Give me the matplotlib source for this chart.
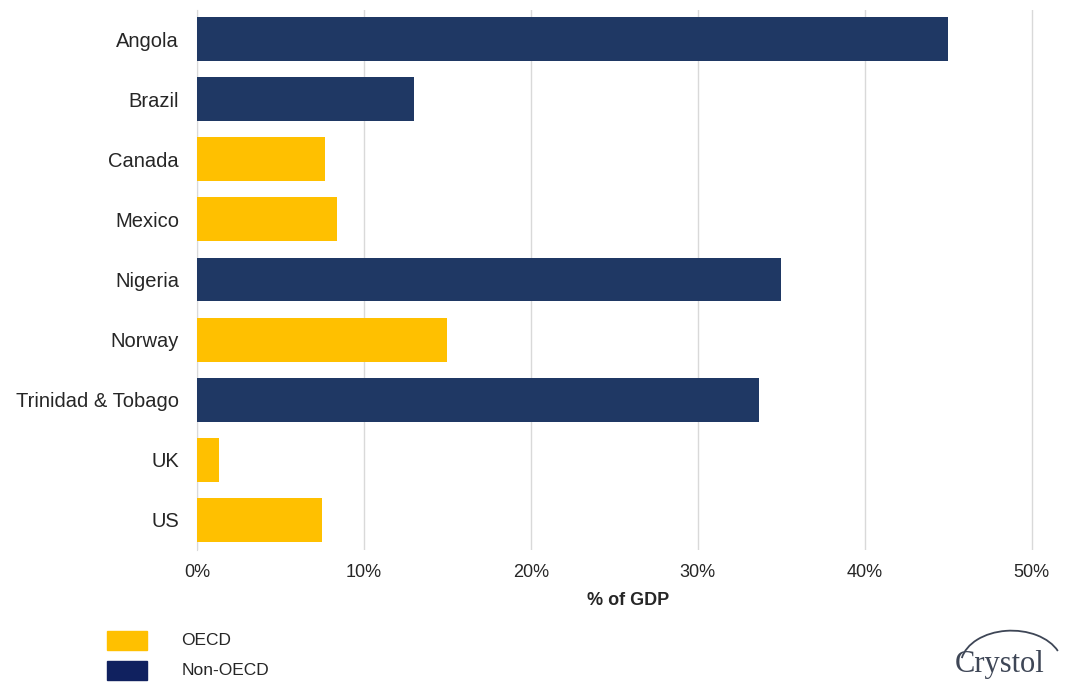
import matplotlib.pyplot as plt
from matplotlib.patches import Rectangle, Arc
from matplotlib.ticker import PercentFormatter

countries = ["Angola", "Brazil", "Canada", "Mexico", "Nigeria", "Norway",
             "Trinidad & Tobago", "UK", "US"]
share_gdp = [45.0, 13.0, 7.7, 8.4, 35.0, 15.0, 33.7, 1.3, 7.5]
oecd = [False, False, True, True, False, True, False, True, True]
ticks = [0, 10, 20, 30, 40, 50]

ORANGE = "#FFC000"
NAVY = "#1F3864"
TXT = "#262626"

plt.rcParams["font.family"] = ["Liberation Sans", "DejaVu Sans"]

fig = plt.figure(figsize=(10.67, 6.84), dpi=100)
ax = fig.add_axes([0.1846, 0.196, 0.8088, 0.789])

colors = [ORANGE if o else NAVY for o in oecd]
ax.barh(range(len(countries)), share_gdp, height=0.73, color=colors, zorder=3)

ax.set_ylim(len(countries) - 0.5, -0.48)
ax.set_xlim(0, 51.7)
ax.set_yticks(range(len(countries)))
ax.set_yticklabels(countries, fontsize=14.5, color=TXT)
ax.set_xticks(ticks)
ax.xaxis.set_major_formatter(PercentFormatter(decimals=0))
ax.tick_params(axis="x", labelsize=13, colors=TXT, length=0, pad=10)
ax.tick_params(axis="y", length=0, pad=13)
ax.grid(axis="x", color="#d9d9d9", linewidth=1, zorder=0)
for s in ["top", "right", "bottom"]:
    ax.spines[s].set_visible(False)
ax.spines["left"].set_color("#d9d9d9")
ax.set_xlabel("% of GDP", fontsize=13, fontweight="bold", color=TXT, labelpad=8)

# legend drawn by hand in figure coordinates
for y, col, lab in [(0.050, ORANGE, "OECD"), (0.006, "#10215F", "Non-OECD")]:
    fig.patches.append(Rectangle((0.100, y), 0.038, 0.027, color=col,
                                 transform=fig.transFigure, figure=fig))
    fig.text(0.170, y + 0.0135, lab, fontsize=12.5, va="center", color=TXT)

# logo
fig.text(0.895, 0.018, "Crystol", fontsize=22, family="Liberation Serif",
         color="#3e4656", va="baseline")
fig.patches.append(Arc((0.948, 0.028), 0.095, 0.10, theta1=25, theta2=168,
                       transform=fig.transFigure, color="#3e4656", lw=1.3, figure=fig))

fig.savefig("out.png", dpi=100)
